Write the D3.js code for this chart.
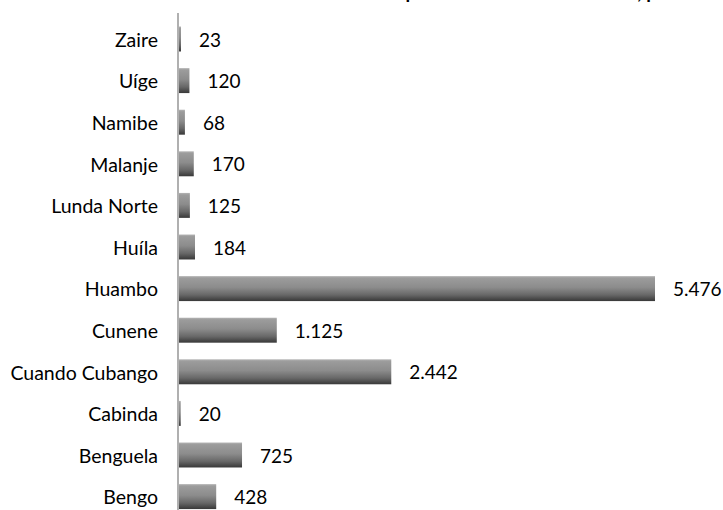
<meta charset="utf-8">
<html>
<head>
<style>
  body { margin: 0; background: #fff; }
  text { font-family: Lato, "Open Sans", sans-serif; }
</style>
</head>
<body>
<div id="chart"></div>
<script src="https://d3js.org/d3.v7.min.js"></script>
<script>
    // data, top to bottom as in the chart
    var provinces = ["Zaire", "Uíge", "Namibe", "Malanje", "Lunda Norte", "Huíla",
                     "Huambo", "Cunene", "Cuando Cubango", "Cabinda", "Benguela", "Bengo"];
    var counts = [23, 120, 68, 170, 125, 184, 5476, 1125, 2442, 20, 725, 428];
    var valueLabels = ["23", "120", "68", "170", "125", "184", "5.476", "1.125", "2.442", "20", "725", "428"];
    var titleText = "Número de casos notificados por Província de Residência, por Ano";

    var width = 723, height = 510;

    var svg = d3.select("#chart")
      .append("svg")
        .attr("width", width)
        .attr("height", height);

    // gradient for the bars (light top, dark bottom)
    var grad = svg.append("defs").append("linearGradient")
        .attr("id", "barGrad")
        .attr("x1", 0).attr("y1", 0).attr("x2", 0).attr("y2", 1);
    [[0, "#b4b4b4"], [0.08, "#9c9c9c"], [0.45, "#8c8c8c"], [0.75, "#686868"], [1, "#383838"]]
      .forEach(function(s) {
        grad.append("stop").attr("offset", s[0]).attr("stop-color", s[1]);
      });

    var x = d3.scaleLinear()
        .domain([0, 5476])
        .range([179, 655]);

    var y = d3.scaleBand()
        .domain(provinces)
        .range([18.2, 517.4])
        .paddingInner(0.4)
        .paddingOuter(0.2);

    // title (mostly cut off above the picture, as in the original)
    var title = svg.append("text")
        .attr("y", -1)
        .attr("font-weight", "bold")
        .attr("font-size", 19)
        .text(titleText);
    // place it so the "p" of the first "por" sits where it does in the original
    var idx = titleText.indexOf("por");
    var pre = svg.append("text").attr("font-weight", "bold").attr("font-size", 19)
        .text(titleText.slice(0, idx));
    var preW = pre.node().getComputedTextLength();
    pre.remove();
    title.attr("x", 401 - preW);

    // bars
    svg.selectAll("rect.bar")
      .data(provinces)
      .enter().append("rect")
        .attr("class", "bar")
        .attr("x", x(0))
        .attr("y", function(d) { return y(d); })
        .attr("width", function(d, i) { return x(counts[i]) - x(0); })
        .attr("height", y.bandwidth())
        .attr("fill", "url(#barGrad)");

    // vertical axis line
    svg.append("line")
        .attr("x1", 178).attr("x2", 178)
        .attr("y1", 13).attr("y2", height)
        .attr("stroke", "#b0b0b0")
        .attr("stroke-width", 2);

    // category labels
    svg.selectAll("text.cat")
      .data(provinces)
      .enter().append("text")
        .attr("class", "cat")
        .attr("x", 158)
        .attr("y", function(d) { return y(d) + y.bandwidth() / 2 + 1; })
        .attr("dy", "0.35em")
        .attr("text-anchor", "end")
        .attr("font-size", 19.5)
        .attr("fill", "#000")
        .text(function(d) { return d; });

    // value labels
    svg.selectAll("text.val")
      .data(provinces)
      .enter().append("text")
        .attr("class", "val")
        .attr("x", function(d, i) { return x(counts[i]) + 18; })
        .attr("y", function(d) { return y(d) + y.bandwidth() / 2 + 1; })
        .attr("dy", "0.35em")
        .attr("font-size", 19)
        .attr("fill", "#000")
        .text(function(d, i) { return valueLabels[i]; });
</script>
</body>
</html>
